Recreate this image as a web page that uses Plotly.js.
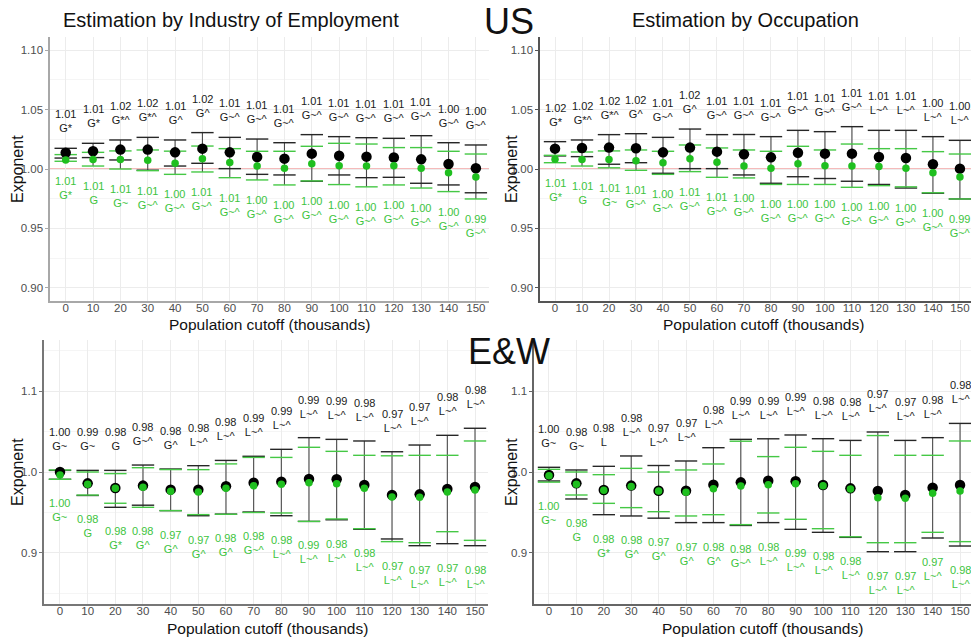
<!DOCTYPE html>
<html><head><meta charset="utf-8">
<script src="https://cdn.plot.ly/plotly-3.0.1.min.js"></script>
<style>html,body{margin:0;padding:0;background:#fff}#chart{width:971px;height:639px}</style>
</head><body><div id="chart"></div>
<script>
const cutoffs = ['0','10','20','30','40','50','60','70','80','90','100','110','120','130','140','150'];

// ---- US, by industry of employment ----
const usIndBlack   = [1.0137,1.0149,1.0163,1.0163,1.0140,1.0171,1.0140,1.0101,1.0087,1.0129,1.0112,1.0104,1.0096,1.0081,1.0042,1.0006];
const usIndGreen   = [1.0076,1.0079,1.0080,1.0073,1.0048,1.0087,1.0054,1.0025,1.0006,1.0045,1.0028,1.0025,1.0028,1.0006,0.9969,0.9933];
const usIndBlackLo = [1.0092,1.0096,1.0076,0.9990,1.0025,1.0048,1.0003,0.9955,0.9950,0.9897,0.9950,0.9927,0.9930,0.9880,0.9866,0.9800];
const usIndBlackHi = [1.0174,1.0216,1.0244,1.0266,1.0244,1.0306,1.0266,1.0252,1.0221,1.0289,1.0272,1.0263,1.0258,1.0280,1.0221,1.0202];
const usIndGreenLo = [1.0065,1.0025,1.0000,0.9986,0.9955,0.9975,0.9927,0.9908,0.9866,0.9900,0.9869,0.9850,0.9866,0.9840,0.9810,0.9748];
const usIndGreenHi = [1.0121,1.0140,1.0152,1.0160,1.0150,1.0193,1.0171,1.0149,1.0149,1.0191,1.0216,1.0210,1.0180,1.0180,1.0149,1.0126];
const usIndBlackVal  = ['1.01','1.01','1.02','1.02','1.01','1.02','1.01','1.01','1.01','1.01','1.01','1.01','1.01','1.01','1.00','1.00'];
const usIndBlackCode = ['G*','G*','G*^','G*^','G^','G^','G~^','G~^','G~^','G~^','G~^','G~^','G~^','G~^','G~^','G~^'];
const usIndGreenVal  = ['1.01','1.01','1.01','1.01','1.00','1.01','1.01','1.00','1.00','1.00','1.00','1.00','1.00','1.00','1.00','0.99'];
const usIndGreenCode = ['G*','G','G~','G~^','G~^','G~^','G~^','G~^','G~^','G~^','G~^','G~^','G~^','G~^','G~^','G~^'];

// ---- US, by occupation ----
const usOccBlack   = [1.0171,1.0177,1.0180,1.0174,1.0140,1.0180,1.0146,1.0124,1.0098,1.0137,1.0129,1.0129,1.0101,1.0093,1.0040,1.0003];
const usOccGreen   = [1.0081,1.0080,1.0080,1.0070,1.0053,1.0087,1.0056,1.0025,1.0006,1.0045,1.0028,1.0025,1.0022,1.0006,0.9969,0.9933];
const usOccBlackLo = [1.0110,1.0104,1.0040,1.0053,0.9964,1.0003,1.0003,0.9950,0.9880,0.9935,0.9920,0.9897,0.9870,0.9840,0.9796,0.9748];
const usOccBlackHi = [1.0230,1.0244,1.0289,1.0297,1.0266,1.0336,1.0289,1.0290,1.0272,1.0325,1.0314,1.0356,1.0325,1.0325,1.0272,1.0241];
const usOccGreenLo = [1.0053,1.0025,1.0010,0.9989,0.9955,0.9978,0.9930,0.9925,0.9870,0.9870,0.9870,0.9846,0.9860,0.9850,0.9800,0.9748];
const usOccGreenHi = [1.0115,1.0143,1.0152,1.0160,1.0149,1.0202,1.0177,1.0160,1.0149,1.0191,1.0160,1.0210,1.0171,1.0171,1.0146,1.0126];
const usOccBlackVal  = ['1.02','1.02','1.02','1.02','1.01','1.02','1.01','1.01','1.01','1.01','1.01','1.01','1.01','1.01','1.00','1.00'];
const usOccBlackCode = ['G*','G*^','G*^','G^','G~^','G^','G~^','G~^','G~^','G~^','G~^','G~^','L~^','L~^','L~^','L~^'];
const usOccGreenVal  = ['1.01','1.01','1.01','1.01','1.00','1.01','1.01','1.00','1.00','1.00','1.00','1.00','1.00','1.00','1.00','0.99'];
const usOccGreenCode = ['G*','G','G~','G~^','G~^','G~^','G~^','G~^','G~^','G~^','G~^','G~^','G~^','G~^','G~^','G~^'];

// ---- E&W, by industry of employment ----
const ewIndBlack   = [1.0000,0.9860,0.9803,0.9832,0.9782,0.9782,0.9823,0.9868,0.9881,0.9914,0.9910,0.9840,0.9716,0.9724,0.9790,0.9815];
const ewIndGreen   = [0.9963,0.9850,0.9800,0.9811,0.9761,0.9753,0.9800,0.9831,0.9848,0.9868,0.9856,0.9798,0.9691,0.9687,0.9753,0.9778];
const ewIndBlackLo = [0.9910,0.9710,0.9564,0.9590,0.9523,0.9460,0.9480,0.9506,0.9460,0.9390,0.9410,0.9292,0.9173,0.9090,0.9115,0.9090];
const ewIndBlackHi = [1.0020,1.0020,1.0020,1.0086,1.0037,1.0078,1.0143,1.0194,1.0280,1.0424,1.0403,1.0383,1.0250,1.0333,1.0453,1.0540];
const ewIndGreenLo = [0.9910,0.9715,0.9614,0.9564,0.9523,0.9474,0.9478,0.9500,0.9494,0.9390,0.9420,0.9300,0.9140,0.9127,0.9263,0.9156];
const ewIndGreenHi = [1.0025,1.0000,0.9980,1.0053,1.0030,1.0029,1.0100,1.0180,1.0180,1.0305,1.0255,1.0206,1.0200,1.0206,1.0206,1.0383];
const ewIndBlackVal  = ['1.00','0.99','0.98','0.98','0.98','0.98','0.98','0.99','0.99','0.99','0.99','0.98','0.97','0.97','0.98','0.98'];
const ewIndBlackCode = ['G~','G~','G','G~^','G^','L~^','L~^','L~^','L~^','L~^','L~^','L~^','L~^','L~^','L~^','L~^'];
const ewIndGreenVal  = ['1.00','0.98','0.98','0.98','0.97','0.97','0.98','0.98','0.98','0.99','0.98','0.98','0.97','0.97','0.97','0.98'];
const ewIndGreenCode = ['G~','G','G*','G^','G^','G^','G^','G~^','L~^','L~^','L~^','L~^','L~^','L~^','L~^','L~^'];

// ---- E&W, by occupation ----
const ewOccBlack   = [0.9963,0.9860,0.9778,0.9832,0.9769,0.9769,0.9844,0.9872,0.9893,0.9885,0.9840,0.9798,0.9765,0.9716,0.9807,0.9840];
const ewOccGreen   = [0.9955,0.9850,0.9775,0.9820,0.9765,0.9749,0.9794,0.9827,0.9844,0.9856,0.9831,0.9790,0.9683,0.9675,0.9737,0.9765];
const ewOccBlackLo = [0.9889,0.9667,0.9473,0.9457,0.9430,0.9375,0.9375,0.9340,0.9375,0.9292,0.9255,0.9193,0.9016,0.9016,0.9185,0.9086];
const ewOccBlackHi = [1.0058,1.0025,1.0070,1.0198,1.0080,1.0136,1.0300,1.0403,1.0410,1.0457,1.0411,1.0390,1.0494,1.0390,1.0424,1.0600];
const ewOccGreenLo = [0.9875,0.9716,0.9613,0.9560,0.9510,0.9457,0.9473,0.9350,0.9494,0.9416,0.9300,0.9200,0.9127,0.9127,0.9255,0.9140];
const ewOccGreenHi = [1.0033,1.0000,0.9967,1.0045,1.0000,1.0025,1.0099,1.0380,1.0190,1.0305,1.0255,1.0206,1.0450,1.0206,1.0206,1.0383];
const ewOccBlackVal  = ['1.00','0.98','0.98','0.98','0.97','0.97','0.98','0.99','0.99','0.99','0.98','0.98','0.97','0.97','0.98','0.98'];
const ewOccBlackCode = ['G~','G~','L','L~^','L~^','L~^','L~^','L~^','L~^','L~^','L~^','L~^','L~^','L~^','L~^','L~^'];
const ewOccGreenVal  = ['1.00','0.98','0.98','0.98','0.97','0.97','0.98','0.98','0.98','0.99','0.98','0.98','0.97','0.97','0.97','0.98'];
const ewOccGreenCode = ['G~','G','G*','G^','G^','G^','G^','G~^','L~^','L~^','L~^','L~^','L~^','L~^','L~^','L~^'];

const referenceLevel = 1.00;

const W = 971, H = 639;
const FONT = 'Liberation Sans, Arial, sans-serif';
const BLACK_TXT = '#1a1a1a', GREEN_TXT = '#3dc43d', GREEN_PT = '#1fbf1f', GREEN_CAP = '#45c845';

const panels = [
  {n:'', px:[50,489], py:[37,301], xr:[-0.574,15.48], yr:[0.889,1.111], top:true, axc:'#a8a8a8', sh:12,
   b:usIndBlack,g:usIndGreen,bLo:usIndBlackLo,bHi:usIndBlackHi,gLo:usIndGreenLo,gHi:usIndGreenHi,
   bV:usIndBlackVal,bC:usIndBlackCode,gV:usIndGreenVal,gC:usIndGreenCode},
  {n:'2', px:[540,971], py:[37,301], xr:[-0.556,15.41], yr:[0.889,1.111], top:true, axc:'#555', sh:12,
   b:usOccBlack,g:usOccGreen,bLo:usOccBlackLo,bHi:usOccBlackHi,gLo:usOccGreenLo,gHi:usOccGreenHi,
   bV:usOccBlackVal,bC:usOccBlackCode,gV:usOccGreenVal,gC:usOccGreenCode},
  {n:'3', px:[44,488], py:[340,604], xr:[-0.578,15.47], yr:[0.837,1.163], top:false, axc:'#777', sh:16,
   b:ewIndBlack,g:ewIndGreen,bLo:ewIndBlackLo,bHi:ewIndBlackHi,gLo:ewIndGreenLo,gHi:ewIndGreenHi,
   bV:ewIndBlackVal,bC:ewIndBlackCode,gV:ewIndGreenVal,gC:ewIndGreenCode},
  {n:'4', px:[534,971], py:[340,604], xr:[-0.547,15.40], yr:[0.837,1.163], top:false, axc:'#666', sh:16,
   b:ewOccBlack,g:ewOccGreen,bLo:ewOccBlackLo,bHi:ewOccBlackHi,gLo:ewOccGreenLo,gHi:ewOccGreenHi,
   bV:ewOccBlackVal,bC:ewOccBlackCode,gV:ewOccGreenVal,gC:ewOccGreenCode}
];

const traces = [];
const layout = {
  width: W, height: H, margin:{l:0,r:0,t:0,b:0}, showlegend:false,
  paper_bgcolor:'#fff', plot_bgcolor:'#fff', font:{family:FONT},
  annotations: [], shapes: []
};

panels.forEach(p => {
  const xa = 'x'+p.n, ya = 'y'+p.n;
  const top = cutoffs.map((c,i)=>Math.max(p.bHi[i],p.gHi[i]));
  const bot = cutoffs.map((c,i)=>Math.min(p.bLo[i],p.gLo[i]));
  traces.push({x:cutoffs, y:p.b, xaxis:xa, yaxis:ya, type:'scatter', mode:'markers',
    marker:{size:1, opacity:0}, hoverinfo:'skip',
    error_y:{type:'data', symmetric:false, array:top.map((t,i)=>t-p.b[i]), arrayminus:bot.map((t,i)=>p.b[i]-t),
      width:0, thickness:1.1, color:'#4a4a4a'}});
  traces.push({x:cutoffs.concat(cutoffs), y:p.bLo.concat(p.bHi), xaxis:xa, yaxis:ya, type:'scatter', mode:'markers',
    marker:{symbol:'line-ew', size:16, line:{color:'#262626', width:1.4}}, hoverinfo:'skip'});
  traces.push({x:cutoffs.concat(cutoffs), y:p.gLo.concat(p.gHi), xaxis:xa, yaxis:ya, type:'scatter', mode:'markers',
    marker:{symbol:'line-ew', size:16, line:{color:GREEN_CAP, width:1.4}}, hoverinfo:'skip'});
  traces.push({x:cutoffs, y:p.b, xaxis:xa, yaxis:ya, type:'scatter', mode:'markers',
    marker:{size:10.5, color:'#000'}});
  traces.push({x:cutoffs, y:p.g, xaxis:xa, yaxis:ya, type:'scatter', mode:'markers',
    marker:{size:7.5, color:GREEN_PT}});

  const tickBase = {tickfont:{size:11.5, color:'#4d4d4d', family:FONT}, zeroline:false,
    showline:true, linecolor:p.axc, linewidth:1.6};
  layout['xaxis'+p.n] = Object.assign({}, tickBase, {
    domain:[p.px[0]/W, p.px[1]/W], anchor:ya, type:'category', range:p.xr,
    showgrid:true, gridcolor:'#ececec', gridwidth:1, ticks:'', ticklabelstandoff:-4, fixedrange:true});
  layout['yaxis'+p.n] = Object.assign({}, tickBase, {
    domain:[1-p.py[1]/H, 1-p.py[0]/H], anchor:xa, range:p.yr,
    tick0:0.9, dtick:p.top?0.05:0.1, tickformat:p.top?'.2f':'.1f',
    ticks:'outside', ticklen:3, tickcolor:p.axc, tickwidth:1,
    showgrid:true, gridcolor:'#ececec', gridwidth:1,
    minor:{dtick:p.top?0.025:0.05, tick0:0.9, showgrid:true, gridcolor:'#f5f5f5', gridwidth:1, ticks:''},
    fixedrange:true});

  if (p.top) {
    layout.shapes.push({type:'line', xref:xa+' domain', yref:ya, x0:0, x1:1, y0:referenceLevel, y1:referenceLevel,
      line:{color:'#f2a3a3', width:1.3}, layer:'below'});
  }

  cutoffs.forEach((c,i) => {
    layout.annotations.push({xref:xa, yref:ya, x:i, y:top[i], yanchor:'bottom', xanchor:'center', yshift:p.sh,
      showarrow:false, text:p.bV[i]+'<br>'+p.bC[i], font:{size:11, color:BLACK_TXT, family:FONT}});
    layout.annotations.push({xref:xa, yref:ya, x:i, y:bot[i], yanchor:'top', xanchor:'center', yshift:-p.sh,
      showarrow:false, text:p.gV[i]+'<br>'+p.gC[i], font:{size:11, color:GREEN_TXT, family:FONT}});
  });
});

function paperText(text, px, py, size, extra) {
  layout.annotations.push(Object.assign({xref:'paper', yref:'paper', x:px/W, y:1-py/H,
    xanchor:'center', yanchor:'middle', showarrow:false, text:text,
    font:{size:size, color:'#111', family:FONT}}, extra||{}));
}
paperText('Estimation by Industry of Employment', 231, 20, 20);
paperText('Estimation by Occupation', 745, 20, 20);
paperText('US', 509, 21, 36);
paperText('E&amp;W', 509, 351, 36);
paperText('Population cutoff (thousands)', 269, 324, 15.5);
paperText('Population cutoff (thousands)', 763, 324, 15.5);
paperText('Population cutoff (thousands)', 267, 628, 15.5);
paperText('Population cutoff (thousands)', 762, 628, 15.5);
paperText('Exponent', 17, 169, 16, {textangle:-90});
paperText('Exponent', 17, 472, 16, {textangle:-90});
paperText('Exponent', 511, 169, 16, {textangle:-90});
paperText('Exponent', 511, 472, 16, {textangle:-90});

Plotly.newPlot('chart', traces, layout, {displayModeBar:false, staticPlot:true});
</script>
</body></html>
